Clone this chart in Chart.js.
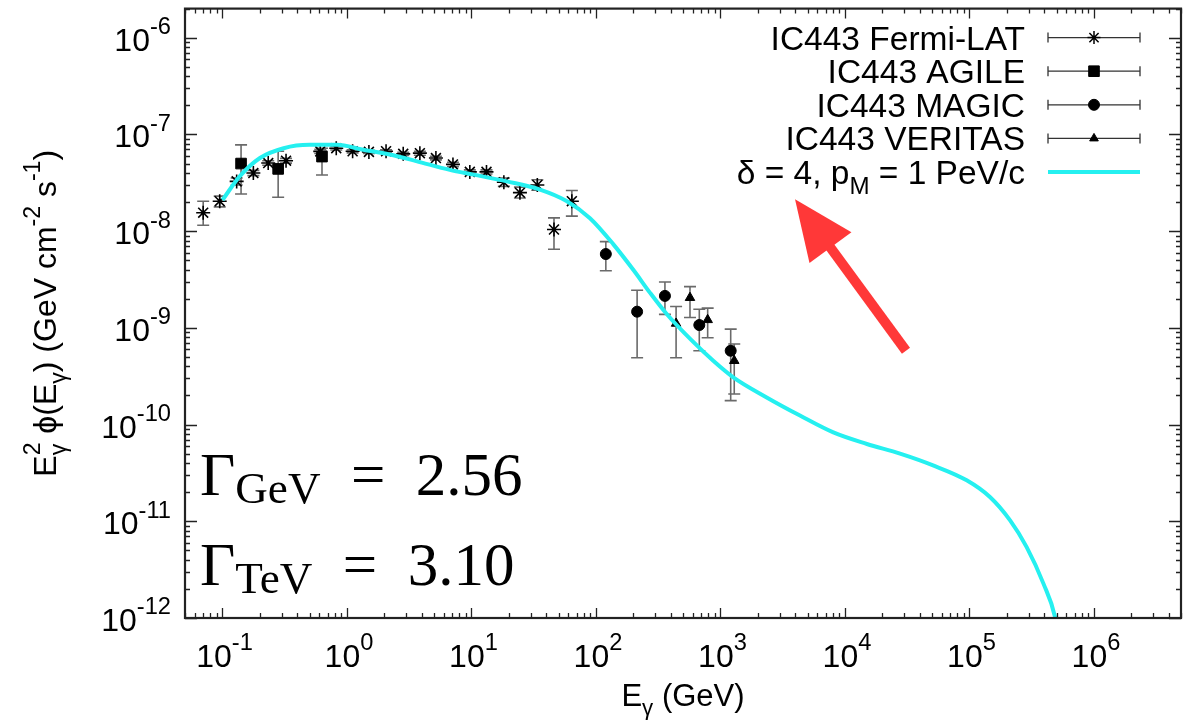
<!DOCTYPE html>
<html>
<head>
<meta charset="utf-8">
<title>IC443 gamma-ray SED</title>
<script src="https://cdn.jsdelivr.net/npm/chart.js@4"></script>
<style>
  html, body { margin: 0; padding: 0; background: #fff; }
</style>
</head>
<body>
<canvas id="sed" width="1190" height="727"></canvas>
<script>
// energies in GeV, fluxes as E^2 dN/dE in GeV cm^-2 s^-1
const fermiE  = [0.070, 0.095, 0.13, 0.177, 0.233, 0.324, 0.61, 0.82, 1.11, 1.50, 2.06, 2.83, 3.85, 5.18, 7.1, 9.7, 13.2, 18.2, 24.5, 33.8, 46, 64];
const fermiF  = [1.55e-8, 2.04e-8, 3.27e-8, 3.99e-8, 5.06e-8, 5.35e-8, 6.68e-8, 7.2e-8, 6.7e-8, 6.6e-8, 6.7e-8, 6.3e-8, 6.4e-8, 5.7e-8, 4.9e-8, 4.1e-8, 4.1e-8, 3.2e-8, 2.5e-8, 3.0e-8, 1.04e-8, 2.04e-8];
const fermiLo = [1.15e-8, 1.78e-8, 3.0e-8, 3.75e-8, 4.8e-8, 5.05e-8, 6.35e-8, 6.9e-8, 6.45e-8, 6.35e-8, 6.45e-8, 6.05e-8, 6.1e-8, 5.45e-8, 4.65e-8, 3.9e-8, 3.9e-8, 2.9e-8, 2.2e-8, 2.65e-8, 6.5e-9, 1.43e-8];
const fermiHi = [2.04e-8, 2.3e-8, 3.55e-8, 4.25e-8, 5.35e-8, 5.65e-8, 7.0e-8, 7.5e-8, 6.95e-8, 6.85e-8, 6.95e-8, 6.55e-8, 6.7e-8, 5.95e-8, 5.15e-8, 4.3e-8, 4.3e-8, 3.55e-8, 2.85e-8, 3.4e-8, 1.37e-8, 2.63e-8];

const agileE  = [0.141, 0.28, 0.63];
const agileF  = [5.0e-8, 4.4e-8, 5.9e-8];
const agileLo = [2.42e-8, 2.24e-8, 3.8e-8];
const agileHi = [7.8e-8, 6.7e-8, 7.2e-8];

const magicE  = [120, 214, 358, 676, 1208];
const magicF  = [5.8e-9, 1.47e-9, 2.14e-9, 1.07e-9, 5.8e-10];
const magicLo = [3.9e-9, 4.9e-10, 1.38e-9, 5.8e-10, 1.77e-10];
const magicHi = [7.8e-9, 2.45e-9, 2.98e-9, 1.56e-9, 9.7e-10];

const veritasE  = [440, 569, 789, 1290];
const veritasF  = [1.11e-9, 2.05e-9, 1.21e-9, 4.57e-10];
const veritasLo = [4.9e-10, 1.28e-9, 7.9e-10, 2.07e-10];
const veritasHi = [1.66e-9, 2.67e-9, 1.6e-9, 6.8e-10];

// model: delta = 4, p_M = 1 PeV/c
const modelE = [0.1, 0.138, 0.2, 0.31, 0.5, 0.83, 1.35, 2.2, 3.6, 6.7, 10.4, 19.2, 35.5, 58, 89.5, 138, 200, 272, 370, 582, 875, 1267, 2350, 4350, 8060, 1.5e4, 2.77e4, 5.1e4, 9.5e4, 1.46e5, 2.12e5, 2.88e5, 3.92e5, 4.86e5, 5.2e5];
const modelF = [2.1e-8, 3.7e-8, 5.7e-8, 7.2e-8, 7.8e-8, 7.8e-8, 6.95e-8, 6.2e-8, 5.3e-8, 4.3e-8, 3.84e-8, 3.27e-8, 2.69e-8, 2.05e-8, 1.36e-8, 7.3e-9, 3.96e-9, 2.3e-9, 1.39e-9, 7.5e-10, 4.57e-10, 3.08e-10, 1.91e-10, 1.24e-10, 8.3e-11, 6.3e-11, 5.0e-11, 3.78e-11, 2.65e-11, 1.78e-11, 1.02e-11, 5.4e-12, 2.28e-12, 1.03e-12, 0.6e-12];

const seriesNames = ['IC443 Fermi-LAT', 'IC443 AGILE', 'IC443 MAGIC', 'IC443 VERITAS'];
const xTickExp = [-1, 0, 1, 2, 3, 4, 5, 6];
const yTickExp = [-6, -7, -8, -9, -10, -11, -12];
const xMin = 0.05, xMax = 5e6, yMin = 1e-12, yMax = 2e-6;

// arrow pointing at the key, in data units (tail -> tip)
const arrowTail = [3.09e4, 5.8e-10];
const arrowTip  = [3.97e3, 2.14e-8];

const SANS = "'Liberation Sans', Arial, sans-serif";
const SERIF = "'Liberation Serif', 'Times New Roman', serif";
const CYAN = '#25f0f0';

const pts = (xs, ys) => xs.map((x, i) => ({ x, y: ys[i] }));

// text with super/subscripts: parts {t, s (scale), dy (em, + is down), hold (no advance)}
function richWidth(ctx, parts, size, family) {
  let w = 0, held = 0;
  for (const p of parts) {
    ctx.font = (size * (p.s || 1)) + 'px ' + family;
    const pw = ctx.measureText(p.t).width;
    if (p.hold) { held = pw; continue; }
    w += Math.max(pw, held); held = 0;
  }
  return w;
}
function drawRich(ctx, parts, x, y, size, family, align) {
  const total = richWidth(ctx, parts, size, family);
  let cx = align === 'right' ? x - total : align === 'center' ? x - total / 2 : x;
  let held = 0;
  ctx.textAlign = 'left';
  ctx.textBaseline = 'alphabetic';
  for (const p of parts) {
    ctx.font = (size * (p.s || 1)) + 'px ' + family;
    const pw = ctx.measureText(p.t).width;
    ctx.fillText(p.t, cx, y + (p.dy || 0) * size);
    if (p.hold) { held = pw; continue; }
    cx += Math.max(pw, held); held = 0;
  }
}
const pow10 = e => [{ t: '10' }, { t: String(e), s: 0.74, dy: -0.52 }];

// vertical error bars with caps, drawn under the markers
const errorBars = {
  id: 'errorBars',
  beforeDatasetsDraw(chart) {
    const ctx = chart.ctx, xs = chart.scales.x, ys = chart.scales.y, a = chart.chartArea;
    ctx.save();
    ctx.beginPath();
    ctx.rect(a.left, a.top, a.right - a.left, a.bottom - a.top);
    ctx.clip();
    ctx.strokeStyle = '#6a6a6a';
    ctx.lineWidth = 1.6;
    chart.data.datasets.forEach(ds => {
      if (!ds.errLo) return;
      ds.data.forEach((p, i) => {
        const x = xs.getPixelForValue(p.x);
        const y1 = ys.getPixelForValue(ds.errLo[i]);
        const y2 = ys.getPixelForValue(ds.errHi[i]);
        ctx.beginPath();
        ctx.moveTo(x, y1); ctx.lineTo(x, y2);
        ctx.moveTo(x - 6, y1); ctx.lineTo(x + 6, y1);
        ctx.moveTo(x - 6, y2); ctx.lineTo(x + 6, y2);
        ctx.stroke();
      });
    });
    ctx.restore();
  }
};

// frame, gnuplot-style ticks, labels, key and annotations
const decorations = {
  id: 'decorations',
  afterDraw(chart) {
    const ctx = chart.ctx, a = chart.chartArea;
    const xs = chart.scales.x, ys = chart.scales.y;
    ctx.save();

    ctx.strokeStyle = '#222';
    ctx.lineWidth = 1.3;
    ctx.beginPath();
    for (let k = -2; k <= 6; k++) {
      for (let m = 1; m <= 9; m++) {
        const v = m * Math.pow(10, k);
        if (v < xMin || v > xMax) continue;
        const px = Math.round(xs.getPixelForValue(v)) + 0.5, len = m === 1 ? 10 : 5;
        ctx.moveTo(px, a.bottom); ctx.lineTo(px, a.bottom - len);
        ctx.moveTo(px, a.top); ctx.lineTo(px, a.top + len);
      }
    }
    for (let k = -12; k <= -6; k++) {
      for (let m = 1; m <= 9; m++) {
        const v = m * Math.pow(10, k);
        if (v < yMin || v > yMax) continue;
        const py = Math.round(ys.getPixelForValue(v)) + 0.5, len = m === 1 ? 12 : 5;
        ctx.moveTo(a.left, py); ctx.lineTo(a.left + len, py);
        ctx.moveTo(a.right, py); ctx.lineTo(a.right - len, py);
      }
    }
    ctx.stroke();

    ctx.lineWidth = 2.2;
    ctx.strokeRect(a.left, a.top, a.right - a.left, a.bottom - a.top);

    // tick labels
    ctx.fillStyle = '#000';
    xTickExp.forEach(e => {
      drawRich(ctx, pow10(e), xs.getPixelForValue(Math.pow(10, e)) + 2, a.bottom + 49, 32, SANS, 'center');
    });
    yTickExp.forEach(e => {
      drawRich(ctx, pow10(e), a.left - 14, ys.getPixelForValue(Math.pow(10, e)) + 13, 32, SANS, 'right');
    });

    // axis titles
    drawRich(ctx, [{ t: 'E' }, { t: 'γ', s: 0.72, dy: 0.3 }, { t: ' (GeV)' }],
      (a.left + a.right) / 2, a.bottom + 88, 31, SANS, 'center');
    ctx.save();
    ctx.translate(56, (a.top + a.bottom) / 2);
    ctx.rotate(-Math.PI / 2);
    drawRich(ctx, [
      { t: 'E' }, { t: '2', s: 0.72, dy: -0.5, hold: true }, { t: 'γ', s: 0.72, dy: 0.3 },
      { t: ' ϕ(E' }, { t: 'γ', s: 0.72, dy: 0.3 }, { t: ') (GeV cm' },
      { t: '-2', s: 0.72, dy: -0.5 }, { t: ' s' }, { t: '-1', s: 0.72, dy: -0.5 }, { t: ')' }
    ], 0, 0, 32, SANS, 'center');
    ctx.restore();

    // key
    const keyText = a.right - 156, keyL = a.right - 133, keyR = a.right - 41, keyC = (keyL + keyR) / 2;
    const keyStyles = [
      { pointStyle: 'star', radius: 6.5, borderWidth: 1.5 },
      { pointStyle: 'rect', radius: 7.5, borderWidth: 1 },
      { pointStyle: 'circle', radius: 5.5, borderWidth: 1 },
      { pointStyle: 'triangle', radius: 5, borderWidth: 1 }
    ];
    seriesNames.forEach((name, i) => {
      const y = a.top + 29 + i * 33.6;
      drawRich(ctx, [{ t: name }], keyText, y + 12, 33.5, SANS, 'right');
      ctx.strokeStyle = '#333';
      ctx.lineWidth = 1.3;
      ctx.beginPath();
      ctx.moveTo(keyL, y); ctx.lineTo(keyR, y);
      ctx.moveTo(keyL, y - 5); ctx.lineTo(keyL, y + 5);
      ctx.moveTo(keyR, y - 5); ctx.lineTo(keyR, y + 5);
      ctx.stroke();
      ctx.fillStyle = '#000';
      ctx.strokeStyle = '#000';
      ctx.lineWidth = keyStyles[i].borderWidth;
      Chart.helpers.drawPoint(ctx, Object.assign({ rotation: 0 }, keyStyles[i]), keyC, y);
    });
    const yModel = a.top + 29 + 4 * 33.6;
    ctx.fillStyle = '#000';
    drawRich(ctx, [{ t: 'δ = 4, p' }, { t: 'M', s: 0.72, dy: 0.3 }, { t: ' = 1 PeV/c' }], keyText, yModel + 12, 33.5, SANS, 'right');
    ctx.strokeStyle = CYAN;
    ctx.lineWidth = 4;
    ctx.beginPath();
    ctx.moveTo(keyL, yModel); ctx.lineTo(keyR, yModel);
    ctx.stroke();

    // spectral indices
    ctx.fillStyle = '#000';
    drawRich(ctx, [{ t: 'Γ' }, { t: 'GeV', s: 0.74, dy: 0.13 }, { t: '\u2002=\u2002' }, { t: '2.56' }],
      a.left + 15, 495, 61, SERIF, 'left');
    drawRich(ctx, [{ t: 'Γ' }, { t: 'TeV', s: 0.74, dy: 0.13 }, { t: '\u2002=\u2002' }, { t: '3.10' }],
      a.left + 15, 585, 61, SERIF, 'left');

    // red arrow
    const tx = xs.getPixelForValue(arrowTail[0]), ty = ys.getPixelForValue(arrowTail[1]);
    const hx = xs.getPixelForValue(arrowTip[0]), hy = ys.getPixelForValue(arrowTip[1]);
    const len = Math.hypot(hx - tx, hy - ty), ux = (hx - tx) / len, uy = (hy - ty) / len;
    const headLen = 60, headW = 26;
    const bx = hx - ux * headLen, by = hy - uy * headLen;
    ctx.strokeStyle = '#ff3838';
    ctx.fillStyle = '#ff3838';
    ctx.lineWidth = 10;
    ctx.lineCap = 'butt';
    ctx.beginPath();
    ctx.moveTo(tx, ty); ctx.lineTo(bx + ux * 4, by + uy * 4);
    ctx.stroke();
    ctx.beginPath();
    ctx.moveTo(hx, hy);
    ctx.lineTo(bx - uy * headW, by + ux * headW);
    ctx.lineTo(bx + uy * headW, by - ux * headW);
    ctx.closePath();
    ctx.fill();

    ctx.restore();
  }
};

const marker = { borderColor: '#000', backgroundColor: '#000', order: 1 };

new Chart(document.getElementById('sed'), {
  type: 'scatter',
  data: {
    datasets: [
      Object.assign({ label: seriesNames[0], data: pts(fermiE, fermiF), errLo: fermiLo, errHi: fermiHi,
        pointStyle: 'star', pointRadius: 7, pointBorderWidth: 1.6 }, marker),
      Object.assign({ label: seriesNames[1], data: pts(agileE, agileF), errLo: agileLo, errHi: agileHi,
        pointStyle: 'rect', pointRadius: 7.5, pointBorderWidth: 1 }, marker),
      Object.assign({ label: seriesNames[2], data: pts(magicE, magicF), errLo: magicLo, errHi: magicHi,
        pointStyle: 'circle', pointRadius: 5.5, pointBorderWidth: 1 }, marker),
      Object.assign({ label: seriesNames[3], data: pts(veritasE, veritasF), errLo: veritasLo, errHi: veritasHi,
        pointStyle: 'triangle', pointRadius: 5.5, pointBorderWidth: 1 }, marker),
      {
        label: 'model', data: pts(modelE, modelF), showLine: true, pointRadius: 0,
        borderColor: CYAN, borderWidth: 4, cubicInterpolationMode: 'monotone', order: 0
      }
    ]
  },
  options: {
    responsive: false,
    animation: false,
    layout: { padding: { left: 185, top: 7, right: 9, bottom: 109 } },
    plugins: { legend: { display: false }, tooltip: { enabled: false } },
    scales: {
      x: { type: 'logarithmic', min: xMin, max: xMax, display: false },
      y: { type: 'logarithmic', min: yMin, max: yMax, display: false }
    }
  },
  plugins: [errorBars, decorations]
});
</script>
</body>
</html>
